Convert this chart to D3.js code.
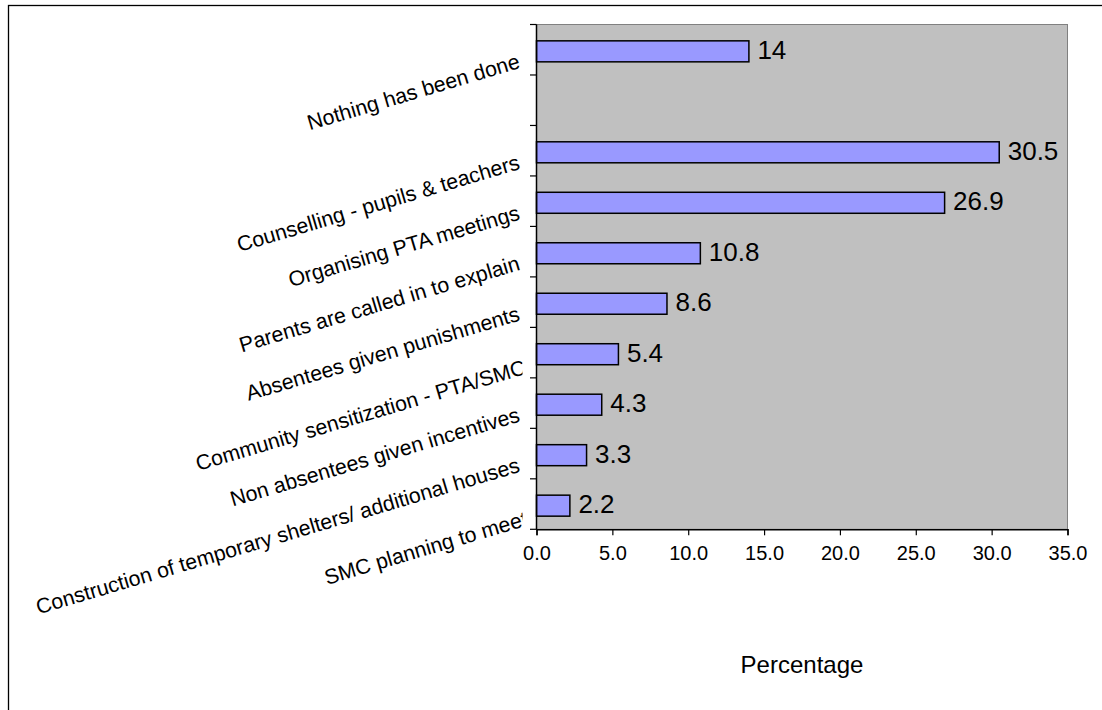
<!DOCTYPE html>
<html>
<head>
<meta charset="utf-8">
<script src="https://cdn.jsdelivr.net/npm/d3@7"></script>
<style>
  html, body { margin: 0; padding: 0; background: #fff; overflow: hidden; }
  svg { display: block; overflow: hidden; font-family: Arial, "Liberation Sans", sans-serif; }
</style>
</head>
<body>
<svg id="chart" width="1102" height="710"></svg>
<script>
// Measures taken against pupil absenteeism (top to bottom); "" is an empty slot
const categories = [
  "Nothing has been done",
  "",
  "Counselling - pupils & teachers",
  "Organising PTA meetings",
  "Parents are called in to explain",
  "Absentees given punishments",
  "Community sensitization - PTA/SMC",
  "Non absentees given incentives",
  "Construction of temporary shelters/ additional houses",
  "SMC planning to meet"
];
const percentages = [14, null, 30.5, 26.9, 10.8, 8.6, 5.4, 4.3, 3.3, 2.2];
const xTicks = [0, 5, 10, 15, 20, 25, 30, 35];
const xTitle = "Percentage";

const svg = d3.select("#chart");
const W = 1102, H = 710;

// plot area box
const plot = { left: 536.5, right: 1067.5, top: 24.5, bottom: 529.3 };

// outer chart frame (runs past the right and bottom edges of the view)
svg.append("rect")
  .attr("x", 8.5).attr("y", 5.5)
  .attr("width", 1300).attr("height", 900)
  .attr("fill", "#fff").attr("stroke", "#000").attr("stroke-width", 1.3);

const keys = categories.map((c, i) => i);
const y = d3.scaleBand().domain(keys).range([plot.top, plot.bottom]);
const x = d3.scaleLinear().domain([0, 35]).range([plot.left, plot.right]);

// grey plot background
svg.append("rect")
  .attr("x", plot.left).attr("y", plot.top)
  .attr("width", plot.right - plot.left).attr("height", plot.bottom - plot.top)
  .attr("fill", "#c0c0c0").attr("stroke", "#808080").attr("stroke-width", 1);

// bars
const barH = 21;
const data = keys.filter(i => percentages[i] != null);
svg.append("g").selectAll("rect").data(data).join("rect")
  .attr("x", x(0))
  .attr("y", i => y(i) + y.bandwidth() / 2 - barH / 2 + 1.6)
  .attr("width", i => x(percentages[i]) - x(0))
  .attr("height", barH)
  .attr("fill", "#9999ff")
  .attr("stroke", "#000").attr("stroke-width", 1.5);

// value labels
svg.append("g").selectAll("text").data(data).join("text")
  .attr("x", i => x(percentages[i]) + 8.5)
  .attr("y", i => y(i) + y.bandwidth() / 2 + 9.2)
  .attr("font-size", 26).attr("fill", "#000")
  .text(i => String(percentages[i]));

// x axis
const xAxis = d3.axisBottom(x).tickValues(xTicks).tickFormat(d3.format(".1f"))
  .tickSize(6).tickPadding(4);
const gx = svg.append("g").attr("transform", `translate(0,${plot.bottom})`).call(xAxis);
gx.select(".domain").attr("stroke", "#000").attr("stroke-width", 1.5);
gx.selectAll(".tick line").attr("stroke", "#000").attr("stroke-width", 1.2);
gx.selectAll(".tick text").attr("font-size", 20).attr("fill", "#000")
  .attr("font-family", "Arial, 'Liberation Sans', sans-serif")
  .attr("dy", "1.05em");

// y axis: line plus ticks on category boundaries
const bounds = d3.range(categories.length + 1).map(i => plot.top + i * y.step());
svg.append("line")
  .attr("x1", plot.left).attr("x2", plot.left)
  .attr("y1", plot.top).attr("y2", plot.bottom)
  .attr("stroke", "#000").attr("stroke-width", 1.5);
svg.append("g").selectAll("line").data(bounds).join("line")
  .attr("x1", plot.left - 6.5).attr("x2", plot.left)
  .attr("y1", d => d).attr("y2", d => d)
  .attr("stroke", "#000").attr("stroke-width", 1.2);

// rotated category labels; two of them overrun the label gutter and get cut
const overrun = {
  "Community sensitization - PTA/SMC": [6, 3],
  "SMC planning to meet": [8, 3]
};
svg.append("defs").append("clipPath").attr("id", "catClip")
  .append("rect").attr("x", 0).attr("y", 0).attr("width", 522.5).attr("height", H);
svg.append("g").attr("clip-path", "url(#catClip)")
  .selectAll("text").data(keys.filter(i => categories[i] !== "")).join("text")
  .attr("text-anchor", "end")
  .attr("font-size", 21.3).attr("fill", "#000")
  .attr("transform", i => {
    const [dx, dy] = overrun[categories[i]] || [0, 0];
    return `translate(${521 + dx},${y(i) + y.bandwidth() / 2 + 18 + dy}) rotate(-16.5)`;
  })
  .text(i => categories[i]);

// x axis title
svg.append("text")
  .attr("x", (plot.left + plot.right) / 2).attr("y", 673.3)
  .attr("text-anchor", "middle").attr("font-size", 24).attr("fill", "#000")
  .text(xTitle);
</script>
</body>
</html>
